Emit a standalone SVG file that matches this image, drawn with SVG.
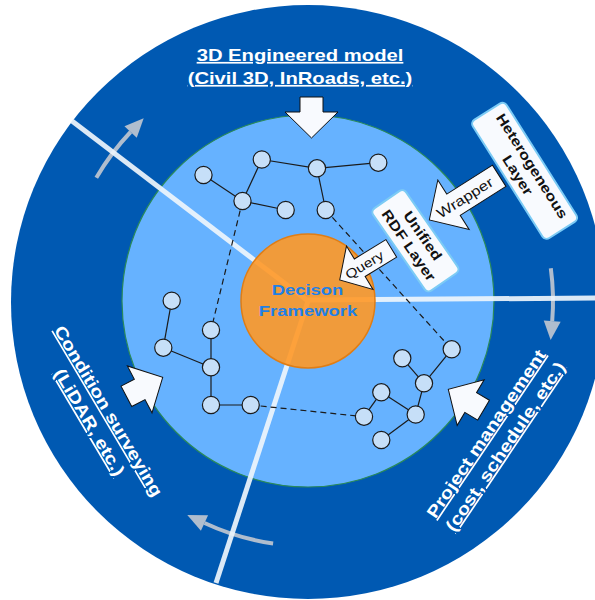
<svg xmlns="http://www.w3.org/2000/svg" xmlns:xlink="http://www.w3.org/1999/xlink" width="595" height="600" viewBox="0 0 595 600">
<style>
.edge{stroke:#1b1b1b;stroke-width:1.2;fill:none}
.dash{stroke-dasharray:6 4}
.node{fill:#C6DFF8;stroke:#1b1b1b;stroke-width:1.2}
.blk{fill:#F8FAFE;stroke:#111;stroke-width:1}
.div{stroke:#EEF5FC;stroke-width:5;stroke-opacity:0.92;fill:none}
.garc{stroke:#C2C8D0;stroke-opacity:0.9;stroke-width:4;fill:none}
.lbl{font-family:"Liberation Sans",Arial,sans-serif;font-weight:bold;font-size:17px;fill:#fff;text-decoration:underline;text-anchor:middle}
.box{fill:#F8FAFE;stroke:#7CCBF5;stroke-width:2}
.bt{font-family:"Liberation Sans",Arial,sans-serif;font-weight:bold;font-size:14px;fill:#111;text-anchor:middle}
.at{font-family:"Liberation Sans",Arial,sans-serif;font-size:14px;fill:#111;text-anchor:middle}
.df{font-family:"Liberation Sans",Arial,sans-serif;font-weight:bold;font-size:15.5px;fill:#1F80E6;text-anchor:middle}
</style>
<defs>
<marker id="gah" markerUnits="userSpaceOnUse" markerWidth="20" markerHeight="18" refX="0" refY="8.5" orient="auto" overflow="visible">
<path d="M0,0 L19,8.5 L0,17 z" fill="#C2C8D0" fill-opacity="0.9"/>
</marker>
<polygon id="barrow" class="blk" points="-11.5,-41 11.5,-41 11.5,-26 26.5,-26 0,0 -26.5,-26 -11.5,-26"/>
</defs>

<g id="background">
<circle cx="308" cy="302" r="297" fill="#0059B2"/>
<circle cx="308" cy="301" r="186" fill="#66B2FF" stroke="#2A8A5A" stroke-width="1.2"/>
</g>

<g id="cycle-arrows">
<path class="garc" d="M96.3,177.8 A245,245 0 0,1 130.6,132.0" marker-end="url(#gah)"/>
<path class="garc" d="M550.8,268.2 A245,245 0 0,1 552.2,321.1" marker-end="url(#gah)"/>
<path class="garc" d="M273.1,543.5 A245,245 0 0,1 204.5,523.0" marker-end="url(#gah)"/>
</g>

<g id="dividers">
<line class="div" x1="72" y1="121" x2="308" y2="301"/>
<line class="div" x1="308" y1="300" x2="600" y2="298"/>
<line class="div" x1="308" y1="301" x2="216" y2="583"/>
</g>

<g id="decision-framework">
<circle cx="308" cy="301" r="67" fill="#FF9826" fill-opacity="0.9" stroke="#E07D14" stroke-width="1.5"/>
<text class="df" transform="translate(307.5,295) scale(1.19,1)">Decison</text>
<text class="df" transform="translate(308,316) scale(1.19,1)">Framework</text>
</g>

<g id="connectors">
<line class="edge" x1="203.5" y1="175" x2="242.5" y2="201"/>
<line class="edge" x1="242.5" y1="201" x2="261.8" y2="159.5"/>
<line class="edge" x1="242.5" y1="201" x2="285.7" y2="210"/>
<line class="edge" x1="261.8" y1="159.5" x2="317" y2="168.3"/>
<line class="edge" x1="317" y1="168.3" x2="378.3" y2="162.7"/>
<line class="edge" x1="317" y1="168.3" x2="325.7" y2="210"/>
<line class="edge" x1="171.7" y1="300.7" x2="163.3" y2="347.7"/>
<line class="edge" x1="163.3" y1="347.7" x2="211" y2="367.3"/>
<line class="edge" x1="211" y1="330" x2="211" y2="367.3"/>
<line class="edge" x1="211" y1="367.3" x2="211" y2="405"/>
<line class="edge" x1="211" y1="405" x2="250.7" y2="405"/>
<line class="edge" x1="451.7" y1="349.3" x2="424" y2="383.3"/>
<line class="edge" x1="402.3" y1="358.3" x2="424" y2="383.3"/>
<line class="edge" x1="424" y1="383.3" x2="415.7" y2="414.5"/>
<line class="edge" x1="381.3" y1="392.3" x2="415.7" y2="414.5"/>
<line class="edge" x1="381.3" y1="392.3" x2="364" y2="416.7"/>
<line class="edge" x1="415.7" y1="414.5" x2="381.3" y2="440"/>
<line class="edge dash" x1="242.5" y1="201" x2="211" y2="330"/>
<line class="edge dash" x1="325.7" y1="210" x2="451.7" y2="349.3"/>
<line class="edge dash" x1="250.7" y1="405" x2="364" y2="416.7"/>
</g>

<g id="nodes">
<circle id="nA" class="node" cx="203.5" cy="175" r="8.6"/>
<circle id="nB" class="node" cx="261.8" cy="159.5" r="8.6"/>
<circle id="nC" class="node" cx="317" cy="168.3" r="8.6"/>
<circle id="nD" class="node" cx="378.3" cy="162.7" r="8.6"/>
<circle id="nE" class="node" cx="242.5" cy="201" r="8.6"/>
<circle id="nF" class="node" cx="285.7" cy="210" r="8.6"/>
<circle id="nG" class="node" cx="325.7" cy="210" r="8.6"/>
<circle id="nH" class="node" cx="211" cy="330" r="8.6"/>
<circle id="nI" class="node" cx="171.7" cy="300.7" r="8.6"/>
<circle id="nJ" class="node" cx="163.3" cy="347.7" r="8.6"/>
<circle id="nK" class="node" cx="211" cy="367.3" r="8.6"/>
<circle id="nL" class="node" cx="211" cy="405" r="8.6"/>
<circle id="nM" class="node" cx="250.7" cy="405" r="8.6"/>
<circle id="nN" class="node" cx="451.7" cy="349.3" r="8.6"/>
<circle id="nO" class="node" cx="402.3" cy="358.3" r="8.6"/>
<circle id="nP" class="node" cx="424" cy="383.3" r="8.6"/>
<circle id="nQ" class="node" cx="381.3" cy="392.3" r="8.6"/>
<circle id="nR" class="node" cx="415.7" cy="414.5" r="8.6"/>
<circle id="nS" class="node" cx="364" cy="416.7" r="8.6"/>
<circle id="nT" class="node" cx="381.3" cy="440" r="8.6"/>
</g>

<g id="input-arrows">
<use xlink:href="#barrow" href="#barrow" transform="translate(311.5,138)"/>
<use xlink:href="#barrow" href="#barrow" transform="translate(162.7,377.3) rotate(-117.7)"/>
<use xlink:href="#barrow" href="#barrow" transform="translate(448.3,389.3) rotate(120.6)"/>
</g>

<g id="query-arrow" transform="translate(339.7,280) rotate(-31.5)">
<polygon class="blk" points="0,0 23.5,-25.4 23.5,-10.3 60.5,-10.3 60.5,10.3 23.5,10.3 23.5,25.4"/>
<text class="at" style="font-size:13px" transform="translate(29,4.5) scale(1.19,1)">Query</text>
</g>

<g id="unified-rdf-layer" transform="translate(415.4,240.7) rotate(55.3)">
<rect class="box" x="-50" y="-20" width="100" height="40" rx="5"/>
<text class="bt" transform="translate(0,-4) scale(1.19,1)">Unified</text>
<text class="bt" transform="translate(0,13) scale(1.19,1)">RDF Layer</text>
</g>

<g id="wrapper-arrow" transform="translate(429.3,220) rotate(-32.3)">
<polygon class="blk" points="0,0 28.6,-29.3 28.6,-12.6 82.7,-12.6 82.7,12.6 28.6,12.6 28.6,29.3"/>
<text class="at" transform="translate(42,5) scale(1.19,1)">Wrapper</text>
</g>

<g id="heterogeneous-layer" transform="translate(524.6,170.8) rotate(57.7)">
<rect class="box" x="-70" y="-20" width="140" height="40" rx="5"/>
<text class="bt" transform="translate(0,-4) scale(1.19,1)">Heterogeneous</text>
<text class="bt" transform="translate(0,13) scale(1.19,1)">Layer</text>
</g>

<g id="label-3d-model">
<text class="lbl" transform="translate(300,61) scale(1.19,1)">3D Engineered model</text>
<text class="lbl" transform="translate(300,84) scale(1.19,1)">(Civil 3D, InRoads, etc.)</text>
</g>

<g id="label-condition" transform="translate(103.5,414) rotate(59.3)">
<text class="lbl" transform="scale(1.19,1)">Condition surveying</text>
<text class="lbl" transform="translate(0,22) scale(1.19,1)">(LiDAR, etc.)</text>
</g>

<g id="label-project" transform="translate(491,437) rotate(-56)">
<text class="lbl" transform="scale(1.19,1)">Project management</text>
<text class="lbl" transform="translate(0,23) scale(1.19,1)">(cost, schedule, etc.)</text>
</g>
</svg>
